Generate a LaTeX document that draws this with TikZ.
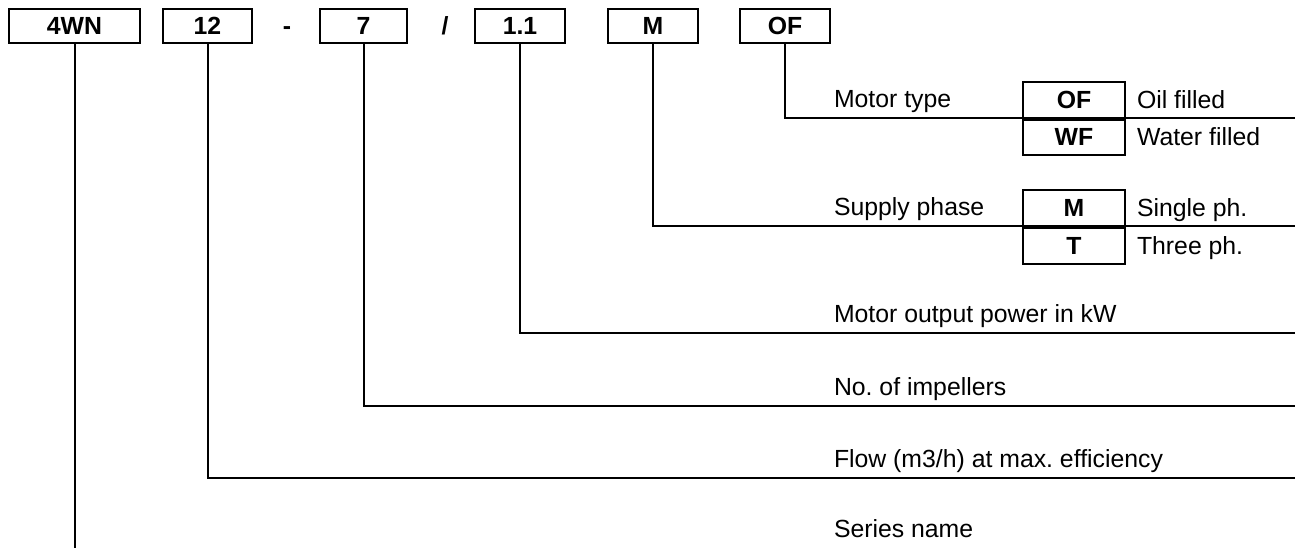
\documentclass[tikz,border=0pt]{standalone}
\usepackage{fontspec}
\setmainfont{Liberation Sans}
\frenchspacing
\begin{document}
\begin{tikzpicture}[x=0.5pt,y=-0.5pt,line width=1pt,
    every node/.style={font=\fontsize{12.4}{14}\selectfont},
    codebox/.style={draw,line width=1pt,inner sep=0pt,minimum height=16.9pt,
      font=\fontsize{12.4}{14}\selectfont\bfseries},
    sep/.style={anchor=base,inner sep=0pt,font=\fontsize{12.4}{14}\selectfont\bfseries},
    cell/.style={codebox,minimum width=51pt,minimum height=17.9pt},
    lbl/.style={anchor=base west,inner sep=0pt}]
  \useasboundingbox (0,0) rectangle (1295,548);

  % type code
  \node[codebox,minimum width=65.5pt] (series) at (74.5,26) {4WN};
  \node[codebox,minimum width=44.5pt] (flow) at (207.5,26) {12};
  \node[sep] (dash) at (287,34.5) {-};
  \node[codebox,minimum width=43.5pt] (imp) at (363.5,26) {7};
  \node[sep] (slash) at (445,34.5) {/};
  \node[codebox,minimum width=45pt] (power) at (520,26) {1.1};
  \node[codebox,minimum width=45pt] (phase) at (653,26) {M};
  \node[codebox,minimum width=45pt] (motor) at (785,26) {OF};

  % free ends at the right edge
  \coordinate (motorend) at (1295,117.5);
  \coordinate (phaseend) at (1295,226);
  \coordinate (powerend) at (1295,333);
  \coordinate (impend) at (1295,406);
  \coordinate (flowend) at (1295,478);
  \coordinate (seriesend) at (74.5,548);

  \draw (motor.south) |- (motorend);
  \draw (phase.south) |- (phaseend);
  \draw (power.south) |- (powerend);
  \draw (imp.south) |- (impend);
  \draw (flow.south) |- (flowend);
  \draw (series.south) -- (seriesend);

  % labels
  \node[lbl] (motorlbl) at (833,107) {Motor type};
  \node[lbl] (phaselbl) at (833,215.5) {Supply phase};
  \node[lbl] (powerlbl) at (833,322.7) {Motor output power in kW};
  \node[lbl] (implbl) at (833,395.7) {No. of impellers};
  \node[lbl] (flowlbl) at (833,467.7) {Flow (m3/h) at max. efficiency};
  \node[lbl] (serieslbl) at (833,537.5) {Series name};

  % option tables
  \node[cell] (of) at (1074,99.6) {OF};
  \node[cell,anchor=north] (wf) at (of.south) {WF};
  \node[cell] (m) at (1074,207.8) {M};
  \node[cell,anchor=north] (t) at (m.south) {T};
  \node[lbl] (oftxt) at ([xshift=5pt]of.base east) {Oil filled};
  \node[lbl] (wftxt) at ([xshift=5pt]wf.base east) {Water filled};
  \node[lbl] (mtxt) at ([xshift=5pt]m.base east) {Single ph.};
  \node[lbl] (ttxt) at ([xshift=5pt]t.base east) {Three ph.};
\end{tikzpicture}
\end{document}
